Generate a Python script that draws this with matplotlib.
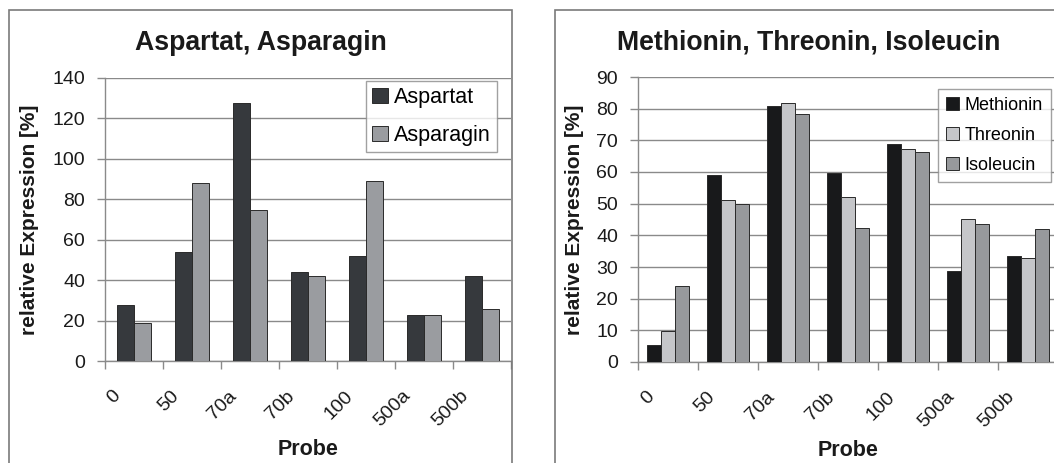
import matplotlib
matplotlib.use("Agg")
import matplotlib.pyplot as plt
from matplotlib.patches import Rectangle
from matplotlib.transforms import ScaledTranslation
import numpy as np

plt.rcParams['font.family'] = ['Liberation Sans', 'DejaVu Sans']

categories = ["0", "50", "70a", "70b", "100", "500a", "500b"]

# Left chart
left_title = "Aspartat, Asparagin"
aspartat = [27.7, 54.0, 127.8, 44.2, 52.1, 22.9, 42.0]
asparagin = [18.6, 88.3, 74.8, 42.2, 89.0, 22.9, 25.5]
left_series = ["Aspartat", "Asparagin"]
left_colors = ["#36393d", "#9a9ca0"]

# Right chart
right_title = "Methionin, Threonin, Isoleucin"
methionin = [5.3, 59.2, 80.7, 59.7, 68.9, 28.7, 33.6]
threonin = [9.8, 51.3, 81.7, 52.1, 67.2, 45.1, 32.7]
isoleucin = [23.9, 50.0, 78.2, 42.4, 66.2, 43.7, 41.9]
right_series = ["Methionin", "Threonin", "Isoleucin"]
right_colors = ["#18191b", "#c5c6c9", "#97999c"]

W, H = 1054, 463
fig = plt.figure(figsize=(W / 100, H / 100), dpi=100)

def rect(x0, top, x1, bottom):
    return [x0 / W, (H - bottom) / H, (x1 - x0) / W, (bottom - top) / H]

GRID = "#8a8a8a"

def setup(ax, ymax, ystep, title, title_x, series_vals, names, colors, barw,
          leg_anchor, leg_fs, leg_spacing, leg_handle, leg_pad):
    n = len(series_vals)
    x = np.arange(len(categories)) + 0.5
    for k, (vals, name, col) in enumerate(zip(series_vals, names, colors)):
        off = (k - (n - 1) / 2) * barw
        ax.bar(x + off, vals, width=barw, color=col, edgecolor="#2a2a2a",
               linewidth=0.7, label=name, zorder=3)
    ax.set_xlim(0, len(categories))
    ax.set_ylim(0, ymax)
    ax.set_yticks(np.arange(0, ymax + 0.1, ystep))
    ax.yaxis.grid(True, color=GRID, linewidth=1.0, zorder=0)
    ax.set_axisbelow(True)
    for s in ["top", "right"]:
        ax.spines[s].set_visible(False)
    for s in ["left", "bottom"]:
        ax.spines[s].set_color(GRID)
        ax.spines[s].set_linewidth(1.0)
    ax.set_xticks(np.arange(0, len(categories) + 1))
    ax.set_xticklabels([])
    ax.set_xticks(x, minor=True)
    ax.set_xticklabels(categories, minor=True, rotation=45, ha="right",
                       va="top", fontsize=14, color="#1a1a1a")
    ax.tick_params(axis="x", which="major", length=6, width=1.0, color=GRID,
                   direction="out")
    ax.tick_params(axis="x", which="minor", length=0, pad=19)
    ax.tick_params(axis="y", length=6, width=1.0, color=GRID, pad=8.4,
                   labelsize=14, labelcolor="#1a1a1a")
    for lab in ax.get_xticklabels(minor=True):
        lab.set_transform(lab.get_transform() +
                          ScaledTranslation(-10 / 100, 0, fig.dpi_scale_trans))
    ax.set_xlabel("Probe", fontsize=15.5, fontweight="bold", labelpad=6,
                  color="#1a1a1a")
    ax.set_ylabel("relative Expression [%]", fontsize=15, fontweight="bold",
                  color="#1a1a1a")
    fig.text(title_x / W, (H - 43) / H, title, ha="center", va="center",
             fontsize=19.2, fontweight="bold", color="#1a1a1a")
    leg = ax.legend(loc="upper right", bbox_to_anchor=leg_anchor,
                    borderaxespad=0, fontsize=leg_fs, frameon=True,
                    fancybox=False, edgecolor=GRID, handlelength=leg_handle,
                    handleheight=leg_handle, handletextpad=0.3,
                    labelspacing=leg_spacing, borderpad=leg_pad)
    leg.get_frame().set_linewidth(1.0)
    leg.set_zorder(5)
    return ax

axL = fig.add_axes(rect(105, 78, 511, 361))
setup(axL, 140, 20, left_title, 261, [aspartat, asparagin], left_series,
      left_colors, 0.293, (0.966, 0.989), 15.5, 0.78, 0.72, 0.28)
axL.yaxis.set_label_coords(-(105 - 39) / 406, 0.5)

axR = fig.add_axes(rect(638, 77, 1058, 362))
setup(axR, 90, 10, right_title, 809, [methionin, threonin, isoleucin],
      right_series, right_colors, 0.228, (0.983, 0.958), 13, 0.72, 0.7, 0.45)
axR.yaxis.set_label_coords(-(638 - 584) / 420, 0.5)

# chart borders
fig.add_artist(Rectangle((9 / W, -0.1), (512 - 9) / W, 0.1 + (H - 10) / H,
                         transform=fig.transFigure, fill=False,
                         edgecolor="#7a7a7a", linewidth=1.2, clip_on=False))
fig.add_artist(Rectangle((555 / W, -0.1), 0.6, 0.1 + (H - 10) / H,
                         transform=fig.transFigure, fill=False,
                         edgecolor="#7a7a7a", linewidth=1.2, clip_on=False))

fig.savefig("out.png", dpi=100)
